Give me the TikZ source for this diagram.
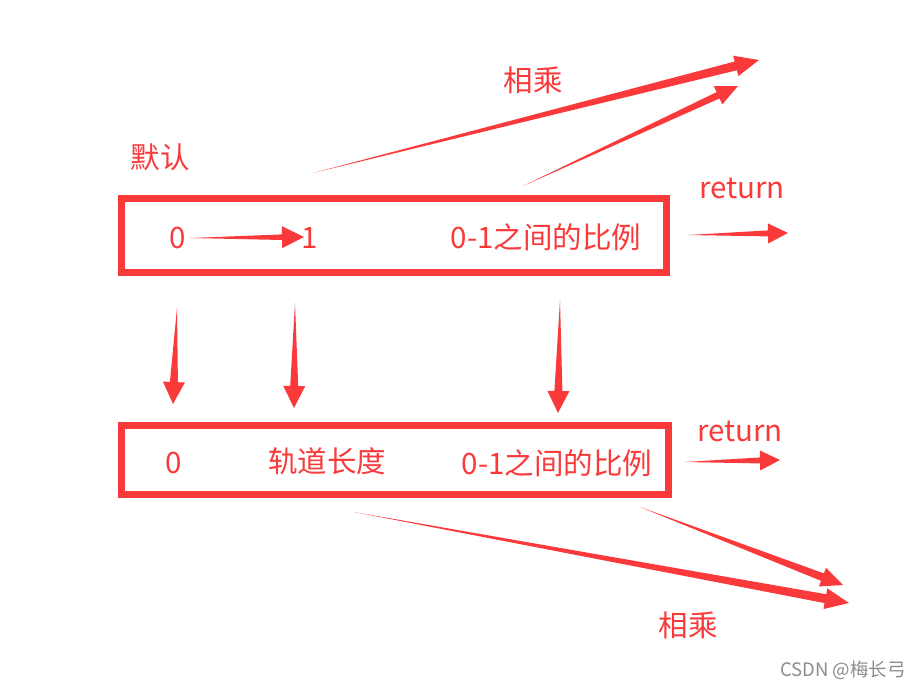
\documentclass[tikz,border=0pt]{standalone}
\usepackage{fontspec}
\setmainfont{Noto Sans CJK SC}
\usetikzlibrary{calc}

\definecolor{markred}{RGB}{250,58,58}
\definecolor{markgray}{RGB}{140,140,140}

\tikzset{
    boxline/.style={draw=markred, line width=7pt},
    redtext/.style={text=markred, inner sep=0pt, font=\fontsize{29.5}{33}\selectfont},
    marktext/.style={text=markgray, inner sep=0pt, font=\fontsize{18.5}{22}\selectfont}
}

% tapered arrow: from, to, half shaft, half head, head length
\newcommand{\taper}[5]{%
    \path ($(#2)!#5!(#1)$) coordinate (tp-h);
    \fill[markred] (#1) -- ($(tp-h)!#3!90:(#2)$) -- ($(tp-h)!#4!90:(#2)$) -- (#2)
        -- ($(tp-h)!#4!-90:(#2)$) -- ($(tp-h)!#3!-90:(#2)$) -- cycle;
}

\begin{document}
\begin{tikzpicture}[x=1pt, y=-1pt]
    \useasboundingbox (0,0) rectangle (921,689);

    % Draw Boxes
    \draw[boxline] (121.5,198.5) rectangle (666.5,272.5);
    \draw[boxline] (121.5,425.5) rectangle (668.5,494.5);

    % Box Labels
    % -- upper box
    \node[redtext] (zero1) at (178,238) {0};
    \node[redtext] (one1) at (310,238) {1};
    \node[redtext] (ratio1) at (546,237) {0-1之间的比例};
    % -- lower box
    \node[redtext] (zero2) at (174,463) {0};
    \node[redtext] (track) at (327,461) {轨道长度};
    \node[redtext] (ratio2) at (557,463) {0-1之间的比例};

    % Outside Labels
    \node[redtext] (default) at (160,157) {默认};
    \node[redtext] (mulup) at (533,80) {相乘};
    \node[redtext] (ret1) at (742,188) {return};
    \node[redtext] (ret2) at (740,431) {return};
    \node[redtext] (muldown) at (688,625) {相乘};
    \node[marktext, anchor=east] (mark) at (906,670) {CSDN @梅长弓};

    % Arrow Ends
    \coordinate (a01s) at (190,238);   \coordinate (a01e) at (304,237);
    \coordinate (r1s) at (688,235);    \coordinate (r1e) at (788,233);
    \coordinate (u1s) at (313,173);    \coordinate (u1e) at (759,60);
    \coordinate (u2s) at (523,186);    \coordinate (u2e) at (738,86);
    \coordinate (d1s) at (177,308);    \coordinate (d1e) at (173,404);
    \coordinate (d2s) at (295,303);    \coordinate (d2e) at (294,408);
    \coordinate (d3s) at (560,300);    \coordinate (d3e) at (558,413);
    \coordinate (r2s) at (685,462);    \coordinate (r2e) at (780,460);
    \coordinate (b1s) at (354,512);    \coordinate (b1e) at (849,603);
    \coordinate (b2s) at (640,507);    \coordinate (b2e) at (843,585);

    % Arrows
    \taper{a01s}{a01e}{2.8pt}{11pt}{22pt}
    \taper{r1s}{r1e}{3pt}{10pt}{20pt}
    \taper{u1s}{u1e}{4.5pt}{10.5pt}{24pt}
    \taper{u2s}{u2e}{3.5pt}{10pt}{22pt}
    \taper{d1s}{d1e}{4pt}{11pt}{22pt}
    \taper{d2s}{d2e}{4pt}{11pt}{22pt}
    \taper{d3s}{d3e}{4pt}{11pt}{22pt}
    \taper{r2s}{r2e}{3pt}{10pt}{20pt}
    \taper{b1s}{b1e}{4.5pt}{10.5pt}{24pt}
    \taper{b2s}{b2e}{4pt}{10pt}{22pt}
\end{tikzpicture}
\end{document}
